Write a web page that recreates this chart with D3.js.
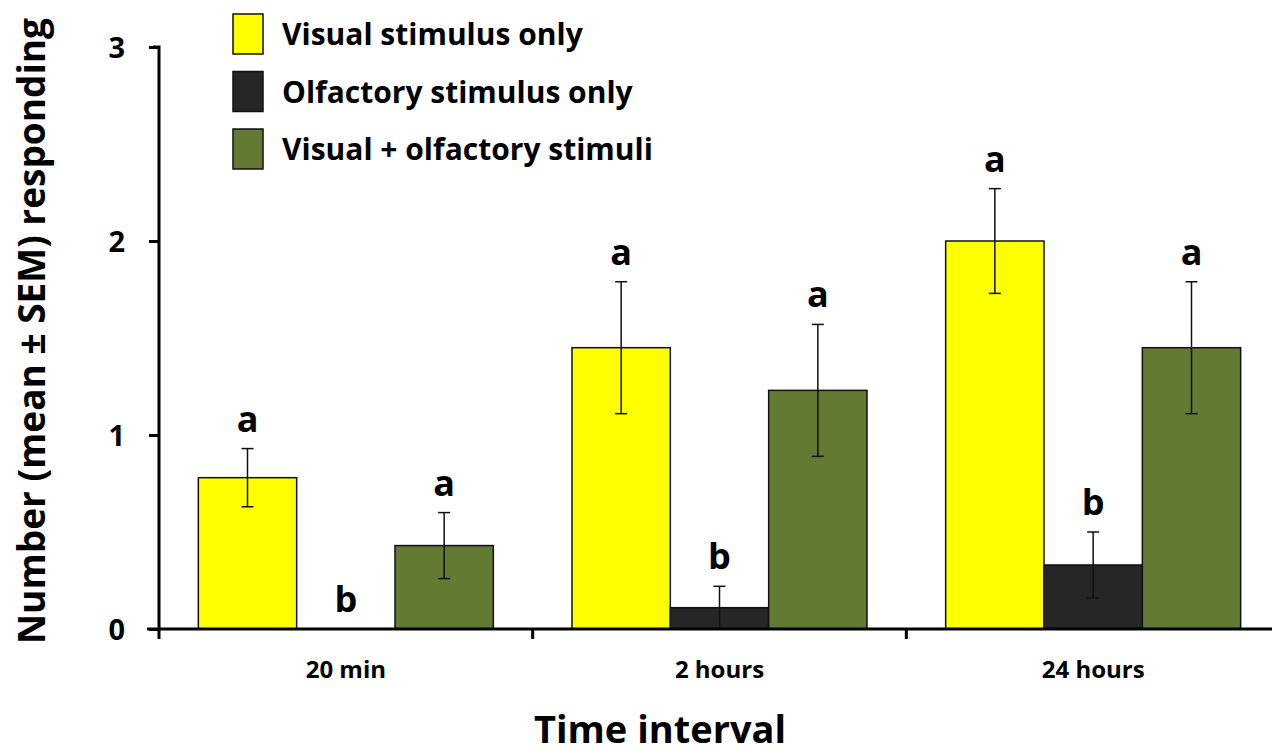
<!DOCTYPE html>
<html>
<head>
<meta charset="utf-8">
<script src="https://cdn.jsdelivr.net/npm/d3@7"></script>
<style>
  body { margin: 0; background: #fff; }
  svg { display: block; font-family: 'Open Sans', 'Noto Sans', sans-serif; font-weight: bold; }
</style>
</head>
<body>
<div id="chart"></div>
<script>
// Mean responses (± SEM) per time interval

const intervals = ['20 min', '2 hours', '24 hours']
const series = ['Visual stimulus only', 'Olfactory stimulus only', 'Visual + olfactory stimuli']
const colors = ['#ffff00', '#262626', '#627a32']

// one row per series, one value per interval
const means = [
  [0.78, 1.45, 2.00],
  [0.00, 0.11, 0.33],
  [0.43, 1.23, 1.45]
]
const sems = [
  [0.15, 0.34, 0.27],
  [0.00, 0.11, 0.17],
  [0.17, 0.34, 0.34]
]
const letters = [
  ['a', 'a', 'a'],
  ['b', 'b', 'b'],
  ['a', 'a', 'a']
]
const yTicks = [0, 1, 2, 3]

const width = 1272
const height = 755
const margin = { top: 47, right: -8, bottom: 126, left: 159 }

const svg = d3.select('#chart')
  .append('svg')
  .attr('width', width)
  .attr('height', height)

const x0 = d3.scaleBand()
  .domain(intervals)
  .range([margin.left, width - margin.right])

const x1 = d3.scaleBand()
  .domain(series)
  .range([0, x0.bandwidth()])
  .paddingOuter(0.4)

const y = d3.scaleLinear()
  .domain([0, 3])
  .range([height - margin.bottom, margin.top])

// flatten for drawing
const rows = []
series.forEach((s, i) => {
  intervals.forEach((t, j) => {
    rows.push({ s, t, i, v: means[i][j], e: sems[i][j], l: letters[i][j] })
  })
})

// bars
svg.append('g').selectAll('rect')
  .data(rows.filter(d => d.v > 0))
  .join('rect')
  .attr('x', d => x0(d.t) + x1(d.s))
  .attr('y', d => y(d.v))
  .attr('width', x1.bandwidth())
  .attr('height', d => y(0) - y(d.v))
  .attr('fill', d => colors[d.i])
  .attr('stroke', '#111')
  .attr('stroke-width', 1.5)

// error bars
const err = svg.append('g')
  .attr('stroke', '#111')
  .attr('stroke-width', 1.5)
  .selectAll('g')
  .data(rows.filter(d => d.e > 0))
  .join('g')
  .attr('transform', d => `translate(${x0(d.t) + x1(d.s) + x1.bandwidth() / 2},0)`)

err.append('line')
  .attr('y1', d => y(d.v + d.e))
  .attr('y2', d => y(Math.max(0, d.v - d.e)))
err.append('line')
  .attr('x1', -6).attr('x2', 6)
  .attr('y1', d => y(d.v + d.e))
  .attr('y2', d => y(d.v + d.e))
err.filter(d => d.v - d.e > 0).append('line')
  .attr('x1', -6).attr('x2', 6)
  .attr('y1', d => y(d.v - d.e))
  .attr('y2', d => y(d.v - d.e))

// significance letters
svg.append('g').selectAll('text')
  .data(rows)
  .join('text')
  .attr('x', d => x0(d.t) + x1(d.s) + x1.bandwidth() / 2)
  .attr('y', d => y(d.v + d.e) - 17)
  .attr('text-anchor', 'middle')
  .style('font-size', '36px')
  .text(d => d.l)

// y axis
const yAxis = svg.append('g')
  .attr('transform', `translate(${margin.left},0)`)
  .call(d3.axisLeft(y).tickValues(yTicks).tickSize(10).tickPadding(24).tickFormat(d3.format('d')))
yAxis.select('.domain').attr('stroke-width', 3).attr('d', `M-6,${y(3)}H0V${y(0)}`)
yAxis.selectAll('.tick line').attr('stroke-width', 3)
yAxis.selectAll('.tick text')
  .style('font-size', '29px')
  .style('font-family', "'Open Sans', sans-serif")
  .style('font-weight', 'bold')
  .attr('dy', '0.36em')

// x axis: baseline with boundary ticks between intervals
const xAxis = svg.append('g')
  .attr('transform', `translate(0,${y(0)})`)
xAxis.append('line')
  .attr('x1', margin.left - 12).attr('x2', width)
  .attr('stroke', '#000').attr('stroke-width', 3)
xAxis.selectAll('.bound')
  .data(intervals)
  .join('line')
  .attr('x1', d => x0(d)).attr('x2', d => x0(d))
  .attr('y1', 0).attr('y2', 10)
  .attr('stroke', '#000').attr('stroke-width', 3)
xAxis.selectAll('.lab')
  .data(intervals)
  .join('text')
  .attr('x', d => x0(d) + x0.bandwidth() / 2)
  .attr('y', 49)
  .attr('text-anchor', 'middle')
  .style('font-size', '24px')
  .text(d => d)

// axis titles
svg.append('text')
  .attr('x', 660)
  .attr('y', 743)
  .attr('text-anchor', 'middle')
  .style('font-size', '38px')
  .text('Time interval')

svg.append('text')
  .attr('transform', `translate(45,331) rotate(-90)`)
  .attr('text-anchor', 'middle')
  .style('font-size', '37px')
  .text('Number (mean ± SEM) responding')

// legend
const legend = svg.append('g')
  .attr('transform', 'translate(233,14)')
  .selectAll('g')
  .data(series)
  .join('g')
  .attr('transform', (d, i) => `translate(0,${i * 57.5})`)
legend.append('rect')
  .attr('width', 30).attr('height', 40)
  .attr('fill', (d, i) => colors[i])
  .attr('stroke', '#111').attr('stroke-width', 1.5)
legend.append('text')
  .attr('x', 49).attr('y', 31)
  .style('font-size', '30px')
  .text(d => d)
</script>
</body>
</html>
